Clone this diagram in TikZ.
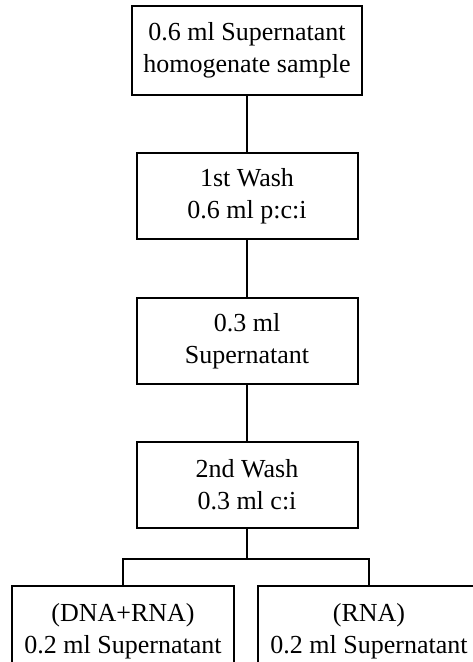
\documentclass[tikz,border=0pt]{standalone}
\usepackage{fontspec}
\setmainfont{Liberation Serif}
\usetikzlibrary{positioning}
\tikzset{
  base/.style={font=\fontsize{26}{32}\selectfont,align=center,draw=black,line width=2pt,fill=white,inner sep=0pt,minimum height=86pt},
  step1/.style={base,minimum width=230pt,minimum height=89pt},
  stepbox/.style={base,minimum width=221pt},
  result/.style={base,minimum width=222pt,minimum height=90pt},
  link/.style={draw=black,line width=2pt}
}
\begin{document}
\begin{tikzpicture}[x=1pt,y=1pt,node distance=56pt]
\useasboundingbox (0,0) rectangle (472,-662);
\node[step1] (sample) at (247,-50.5) {0.6 ml Supernatant\\homogenate sample};
\node[stepbox,below=56pt of sample] (wash1) {1st Wash\\0.6 ml p:c:i};
\node[stepbox,below=57pt of wash1] (super) {0.3 ml\\Supernatant};
\node[stepbox,below=56pt of super] (wash2) {2nd Wash\\0.3 ml c:i};
\coordinate[below=30pt of wash2] (split);
\node[result,below=56pt of wash2,xshift=-124pt] (dnarna) {(DNA+RNA)\\0.2 ml Supernatant};
\node[result,below=56pt of wash2,xshift=122pt] (rna) {(RNA)\\0.2 ml Supernatant};

\draw[link] (sample) -- (wash1);
\draw[link] (wash1) -- (super);
\draw[link] (super) -- (wash2);
\draw[link] (wash2) -- (split);
\draw[link] (split) -| (dnarna);
\draw[link] (split) -| (rna);
\end{tikzpicture}
\end{document}
